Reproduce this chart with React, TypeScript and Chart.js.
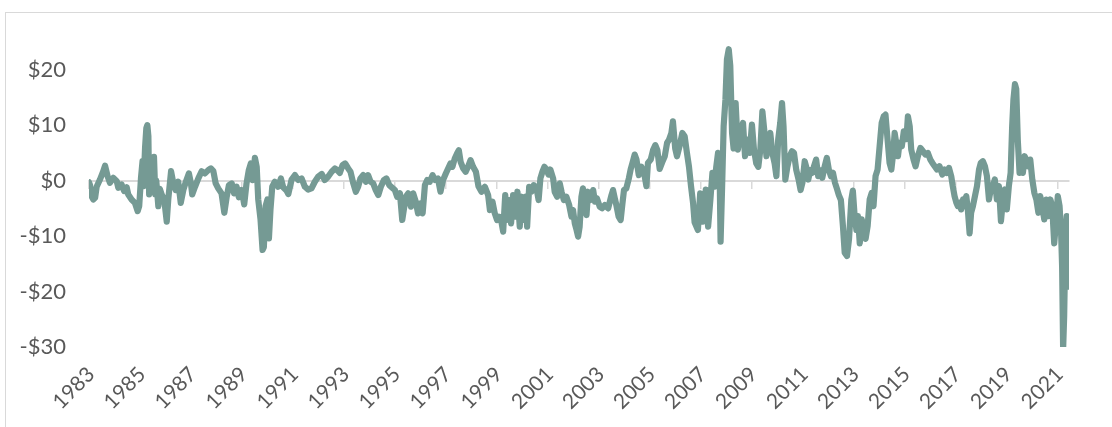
import React, { useEffect, useRef } from 'react';
import { Chart, registerables } from 'chart.js';

Chart.register(...registerables);

// Decimal-year dates of each reading
const dates: number[] = [
  1983.00, 1983.04, 1983.10, 1983.17, 1983.24, 1983.30, 1983.43, 1983.56, 1983.63, 1983.73,
  1983.82, 1983.95, 1984.09, 1984.15, 1984.28, 1984.38, 1984.48, 1984.54, 1984.67, 1984.80,
  1984.91, 1984.97, 1985.04, 1985.10, 1985.14, 1985.20, 1985.25, 1985.29, 1985.33, 1985.36,
  1985.42, 1985.48, 1985.55, 1985.60, 1985.64, 1985.72, 1985.78, 1985.85, 1985.95, 1986.05,
  1986.11, 1986.22, 1986.31, 1986.40, 1986.50, 1986.60, 1986.70, 1986.80, 1986.92, 1987.00,
  1987.05, 1987.16, 1987.29, 1987.42, 1987.55, 1987.68, 1987.78, 1987.88, 1987.97, 1988.07,
  1988.20, 1988.31, 1988.40, 1988.49, 1988.60, 1988.69, 1988.79, 1988.88, 1988.99, 1989.09,
  1989.18, 1989.27, 1989.35, 1989.42, 1989.51, 1989.58, 1989.64, 1989.73, 1989.81, 1989.86,
  1989.93, 1990.00, 1990.06, 1990.12, 1990.19, 1990.29, 1990.42, 1990.53, 1990.62, 1990.75,
  1990.82, 1990.95, 1991.08, 1991.21, 1991.34, 1991.47, 1991.60, 1991.73, 1991.86, 1991.99,
  1992.13, 1992.25, 1992.38, 1992.52, 1992.65, 1992.74, 1992.84, 1992.95, 1993.05, 1993.17,
  1993.26, 1993.37, 1993.47, 1993.56, 1993.65, 1993.76, 1993.86, 1993.95, 1994.05, 1994.15,
  1994.25, 1994.35, 1994.45, 1994.57, 1994.67, 1994.78, 1994.88, 1995.00, 1995.09, 1995.20,
  1995.29, 1995.35, 1995.43, 1995.52, 1995.63, 1995.72, 1995.82, 1995.91, 1996.01, 1996.09,
  1996.18, 1996.27, 1996.37, 1996.48, 1996.58, 1996.69, 1996.79, 1996.89, 1997.00, 1997.09,
  1997.18, 1997.26, 1997.35, 1997.44, 1997.51, 1997.58, 1997.68, 1997.78, 1997.87, 1997.97,
  1998.07, 1998.18, 1998.28, 1998.40, 1998.53, 1998.66, 1998.73, 1998.83, 1998.92, 1999.01,
  1999.09, 1999.18, 1999.25, 1999.33, 1999.40, 1999.48, 1999.56, 1999.64, 1999.73, 1999.81,
  1999.90, 1999.98, 2000.06, 2000.14, 2000.19, 2000.27, 2000.36, 2000.45, 2000.56, 2000.64,
  2000.71, 2000.79, 2000.87, 2000.95, 2001.03, 2001.10, 2001.21, 2001.27, 2001.37, 2001.47,
  2001.54, 2001.63, 2001.73, 2001.84, 2001.93, 2001.99, 2002.06, 2002.13, 2002.19, 2002.25,
  2002.32, 2002.38, 2002.45, 2002.52, 2002.58, 2002.67, 2002.78, 2002.85, 2002.93, 2003.04,
  2003.13, 2003.24, 2003.37, 2003.50, 2003.56, 2003.63, 2003.69, 2003.78, 2003.86, 2003.93,
  2003.99, 2004.08, 2004.18, 2004.25, 2004.34, 2004.41, 2004.48, 2004.57, 2004.67, 2004.78,
  2004.87, 2004.93, 2005.04, 2005.13, 2005.22, 2005.30, 2005.39, 2005.48, 2005.59, 2005.68,
  2005.76, 2005.85, 2005.91, 2006.00, 2006.07, 2006.17, 2006.28, 2006.37, 2006.46, 2006.54,
  2006.62, 2006.70, 2006.76, 2006.89, 2006.98, 2007.09, 2007.20, 2007.29, 2007.38, 2007.46,
  2007.55, 2007.61, 2007.68, 2007.75, 2007.78, 2007.84, 2007.90, 2007.97, 2008.03, 2008.10,
  2008.16, 2008.23, 2008.29, 2008.37, 2008.46, 2008.56, 2008.66, 2008.74, 2008.82, 2008.92,
  2009.01, 2009.09, 2009.18, 2009.26, 2009.34, 2009.42, 2009.50, 2009.58, 2009.65, 2009.73,
  2009.81, 2009.90, 2009.97, 2010.04, 2010.12, 2010.19, 2010.25, 2010.32, 2010.40, 2010.49,
  2010.58, 2010.66, 2010.75, 2010.84, 2010.92, 2010.99, 2011.08, 2011.14, 2011.22, 2011.30,
  2011.38, 2011.44, 2011.53, 2011.61, 2011.69, 2011.77, 2011.86, 2011.95, 2012.03, 2012.11,
  2012.19, 2012.27, 2012.34, 2012.42, 2012.50, 2012.58, 2012.65, 2012.74, 2012.82, 2012.91,
  2012.97, 2013.04, 2013.11, 2013.17, 2013.24, 2013.32, 2013.39, 2013.47, 2013.55, 2013.63,
  2013.71, 2013.78, 2013.86, 2013.94, 2014.02, 2014.10, 2014.18, 2014.25, 2014.33, 2014.41,
  2014.48, 2014.54, 2014.61, 2014.67, 2014.74, 2014.80, 2014.89, 2014.97, 2015.07, 2015.13,
  2015.20, 2015.26, 2015.35, 2015.43, 2015.52, 2015.62, 2015.72, 2015.82, 2015.91, 2016.01,
  2016.09, 2016.18, 2016.27, 2016.37, 2016.48, 2016.57, 2016.66, 2016.74, 2016.83, 2016.89,
  2016.96, 2017.03, 2017.09, 2017.16, 2017.22, 2017.29, 2017.35, 2017.42, 2017.48, 2017.55,
  2017.61, 2017.68, 2017.76, 2017.84, 2017.92, 2017.99, 2018.07, 2018.15, 2018.23, 2018.31,
  2018.38, 2018.46, 2018.54, 2018.62, 2018.70, 2018.78, 2018.86, 2018.93, 2019.01, 2019.09,
  2019.16, 2019.22, 2019.27, 2019.33, 2019.38, 2019.44, 2019.51, 2019.58, 2019.64, 2019.71,
  2019.77, 2019.85, 2019.93, 2020.01, 2020.09, 2020.17, 2020.25, 2020.32, 2020.40, 2020.48,
  2020.56, 2020.64, 2020.72, 2020.79, 2020.87, 2020.95, 2021.01, 2021.08, 2021.14, 2021.18,
  2021.22, 2021.26, 2021.31, 2021.36, 2021.45,
];

// Spread in dollars at each date
const spread: number[] = [
  -0.3, -0.8, -2.8, -3.4, -3.1, -1.1, 0.2, 1.7, 2.7, 0.8,
  -0.4, 0.5, -0.1, -1.3, -0.7, -1.9, -1.2, -2.5, -3.4, -4.0,
  -5.5, -4.6, 0.5, 3.5, -1.0, 6.0, 9.5, 10.0, 8.0, -2.5,
  -0.5, -2.0, 4.3, -2.5, 0.0, -4.6, -1.5, -2.5, -3.4, -7.4,
  -3.4, 1.7, -0.5, -1.7, -0.2, -4.0, -1.7, -0.2, 1.3, -0.5,
  -2.5, -1.1, 0.4, 1.7, 1.3, 1.9, 2.2, 1.7, -0.5, -1.4,
  -2.3, -5.8, -3.0, -0.8, -0.5, -2.3, -1.1, -3.0, -1.7, -4.3,
  -0.5, 1.9, 3.1, 0.1, 4.1, 2.5, -3.4, -7.0, -12.5, -12.0,
  -4.6, -3.4, -10.4, -5.2, -1.1, -0.2, -1.1, 0.4, -1.2, -1.8,
  -2.4, 0.2, 1.0, 0.1, 0.4, -1.1, -1.6, -1.4, -0.2, 0.7,
  1.2, 0.1, 0.7, 1.6, 2.2, 1.9, 1.4, 2.8, 3.1, 2.2,
  1.6, -0.5, -2.0, -1.1, 0.4, 1.0, -0.2, 1.0, -0.2, -0.5,
  -1.7, -2.6, -1.1, 0.1, 0.4, -0.8, -1.2, -1.7, -2.9, -2.3,
  -7.1, -5.3, -2.9, -2.3, -4.7, -2.3, -3.8, -5.9, -4.1, -5.9,
  -0.8, 0.1, -0.2, 1.0, 0.1, 0.4, -2.0, 0.1, 1.3, 2.2,
  3.1, 2.5, 4.0, 4.9, 5.5, 3.4, 2.2, 1.6, 2.5, 3.7,
  2.5, 1.6, -1.0, -2.0, -1.1, -2.6, -5.3, -3.8, -5.9, -7.1,
  -6.5, -7.4, -9.2, -2.6, -7.1, -3.5, -7.7, -2.6, -6.5, -2.0,
  -8.3, -2.9, -7.1, -2.9, -8.3, -1.1, -2.0, -0.8, -1.4, -3.5,
  0.4, 1.6, 2.5, 2.0, 1.1, 2.0, 0.4, -2.0, -2.9, -0.5,
  -2.0, -3.5, -2.9, -4.4, -6.5, -5.3, -7.7, -8.9, -10.1, -8.3,
  -2.9, -1.4, -4.7, -6.2, -2.0, -3.5, -1.7, -3.8, -3.2, -4.7,
  -5.0, -4.4, -5.0, -2.6, -1.7, -3.2, -4.4, -6.5, -7.1, -4.1,
  -1.7, -1.4, 0.4, 2.0, 3.5, 4.7, 3.8, 1.0, 2.5, 1.4,
  -1.0, 3.2, 3.8, 5.5, 6.4, 5.5, 2.1, 3.2, 4.4, 6.8,
  7.4, 8.6, 10.7, 5.8, 4.4, 6.2, 8.6, 8.0, 5.0, 2.5,
  -1.0, -4.0, -7.5, -8.9, -2.3, -7.4, -1.6, -8.3, -3.4, 1.4,
  -1.1, 2.5, 5.0, -1.1, -11.0, -1.1, 9.8, 14.6, 21.9, 23.7,
  20.7, 8.6, 5.8, 14.0, 5.6, 8.8, 10.4, 4.4, 7.4, 5.0,
  10.1, 5.6, 3.1, 2.5, 5.6, 12.5, 8.8, 4.4, 7.4, 8.6,
  5.0, 3.1, 0.8, 7.4, 10.4, 14.0, 9.8, 0.2, 2.5, 4.4,
  5.3, 5.0, 1.9, 0.2, -1.7, -0.4, 3.5, 2.5, 0.2, 1.9,
  1.4, 2.5, 3.8, 0.8, 1.9, 0.5, 2.5, 4.1, 1.9, 0.8,
  1.4, -0.4, -1.4, -2.6, -3.5, -8.2, -13.0, -13.6, -10.5, -3.4,
  -1.8, -6.4, -8.9, -6.4, -11.3, -7.0, -9.4, -10.5, -8.2, -3.4,
  -2.2, -4.6, 0.8, 2.0, 6.2, 10.4, 11.6, 11.9, 7.5, 3.2,
  2.0, 4.4, 8.6, 6.8, 4.4, 6.8, 6.2, 8.9, 7.5, 11.6,
  9.8, 5.6, 3.8, 2.6, 4.4, 5.9, 5.3, 4.7, 5.0, 3.8,
  3.2, 2.6, 2.0, 2.6, 1.1, 2.0, 1.4, 2.3, 0.8, -1.0,
  -2.8, -4.0, -4.6, -4.0, -5.2, -3.4, -4.6, -2.8, -5.2, -9.5,
  -5.8, -4.6, -2.8, -1.0, 2.0, 3.2, 3.5, 2.6, 0.8, -3.4,
  -1.6, -1.0, 0.2, -3.4, -1.0, -7.3, -3.4, -1.6, -5.2, -1.0,
  1.4, 9.8, 14.6, 17.4, 16.5, 7.4, 1.4, 2.6, 1.4, 4.4,
  3.8, 2.6, 3.8, 0.2, -2.2, -3.4, -5.8, -2.8, -4.6, -7.0,
  -3.4, -6.4, -3.4, -4.6, -11.3, -7.0, -2.8, -4.6, -9.4, -15.5,
  -30.3, -24.5, -10.6, -6.4, -19.1,
];

const yearTicks: number[] = [
  1983, 1985, 1987, 1989, 1991, 1993, 1995, 1997, 1999, 2001,
  2003, 2005, 2007, 2009, 2011, 2013, 2015, 2017, 2019, 2021,
];
const yearLabels: string[] = [
  '1983', '1985', '1987', '1989', '1991', '1993', '1995', '1997', '1999', '2001',
  '2003', '2005', '2007', '2009', '2011', '2013', '2015', '2017', '2019', '2021',
];
const valueTicks: number[] = [-30, -20, -10, 0, 10, 20];
const valueLabels: string[] = ['-$30', '-$20', '-$10', '$0', '$10', '$20'];

const X_MIN = 1983;
const X_MAX = 2021.45;
const Y_MIN = -30;
const Y_MAX = 25;

const LINE_COLOR = '#759a94';
const AXIS_COLOR = '#d9d9d9';
const TEXT_COLOR = '#595959';
const Y_FONT = { family: 'Lato, "Open Sans", sans-serif', size: 22 };
const X_FONT = { family: 'Lato, "Open Sans", sans-serif', size: 21 };

export default function App() {
  const canvasRef = useRef<HTMLCanvasElement | null>(null);

  useEffect(() => {
    const canvas = canvasRef.current;
    if (!canvas) return;
    const chart = new Chart(canvas, {
      type: 'line',
      data: {
        datasets: [
          {
            data: dates.map((d, i) => ({ x: d, y: spread[i] })),
            borderColor: LINE_COLOR,
            backgroundColor: LINE_COLOR,
            borderWidth: 6.2,
            pointRadius: 0,
            pointHoverRadius: 0,
            tension: 0,
            fill: false,
            borderJoinStyle: 'round',
            borderCapStyle: 'round',
          },
        ],
      },
      options: {
        responsive: false,
        animation: false,
        events: [],
        layout: { padding: { left: 0, right: 43, top: 42, bottom: 0 } },
        plugins: {
          legend: { display: false },
          tooltip: { enabled: false },
        },
        scales: {
          x: {
            type: 'linear',
            position: 'bottom',
            min: X_MIN,
            max: X_MAX,
            afterBuildTicks: (scale: any) => {
              scale.ticks = yearTicks.map((v) => ({ value: v }));
            },
            afterFit: (scale: any) => {
              scale.height = 80;
            },
            grid: { display: false, drawTicks: false },
            border: { display: false },
            ticks: {
              autoSkip: false,
              minRotation: 45,
              maxRotation: 45,
              padding: 15,
              labelOffset: 2,
              color: TEXT_COLOR,
              font: X_FONT,
              callback: (_v: any, i: number) => yearLabels[i],
            },
          },
          x2: {
            type: 'linear',
            axis: 'x',
            position: { y: 0 },
            min: X_MIN,
            max: X_MAX,
            afterBuildTicks: (scale: any) => {
              scale.ticks = yearTicks.map((v) => ({ value: v }));
            },
            grid: {
              display: true,
              drawOnChartArea: false,
              drawTicks: true,
              tickLength: 7,
              color: AXIS_COLOR,
              lineWidth: 1.5,
            },
            border: { display: true, color: AXIS_COLOR, width: 2 },
            ticks: { display: false },
          },
          y: {
            type: 'linear',
            position: 'left',
            min: Y_MIN,
            max: Y_MAX,
            afterBuildTicks: (scale: any) => {
              scale.ticks = valueTicks.map((v) => ({ value: v }));
            },
            afterFit: (scale: any) => {
              scale.width = 89;
            },
            grid: { display: false, drawTicks: false },
            border: { display: false },
            ticks: {
              padding: 23,
              color: TEXT_COLOR,
              font: Y_FONT,
              callback: (_v: any, i: number) => valueLabels[i],
            },
          },
        },
      } as any,
    });
    return () => chart.destroy();
  }, []);

  return (
    <div
      style={{
        position: 'fixed',
        left: 0,
        top: 0,
        width: 1112,
        height: 427,
        overflow: 'hidden',
        background: '#ffffff',
      }}
    >
      <div
        style={{
          position: 'absolute',
          left: 5,
          top: 12,
          width: 1200,
          height: 500,
          borderTop: `1px solid ${AXIS_COLOR}`,
          borderLeft: `1px solid ${AXIS_COLOR}`,
        }}
      />
      <canvas
        ref={canvasRef}
        width={1112}
        height={427}
        style={{ position: 'absolute', left: 0, top: 0, width: 1112, height: 427 }}
      />
    </div>
  );
}
